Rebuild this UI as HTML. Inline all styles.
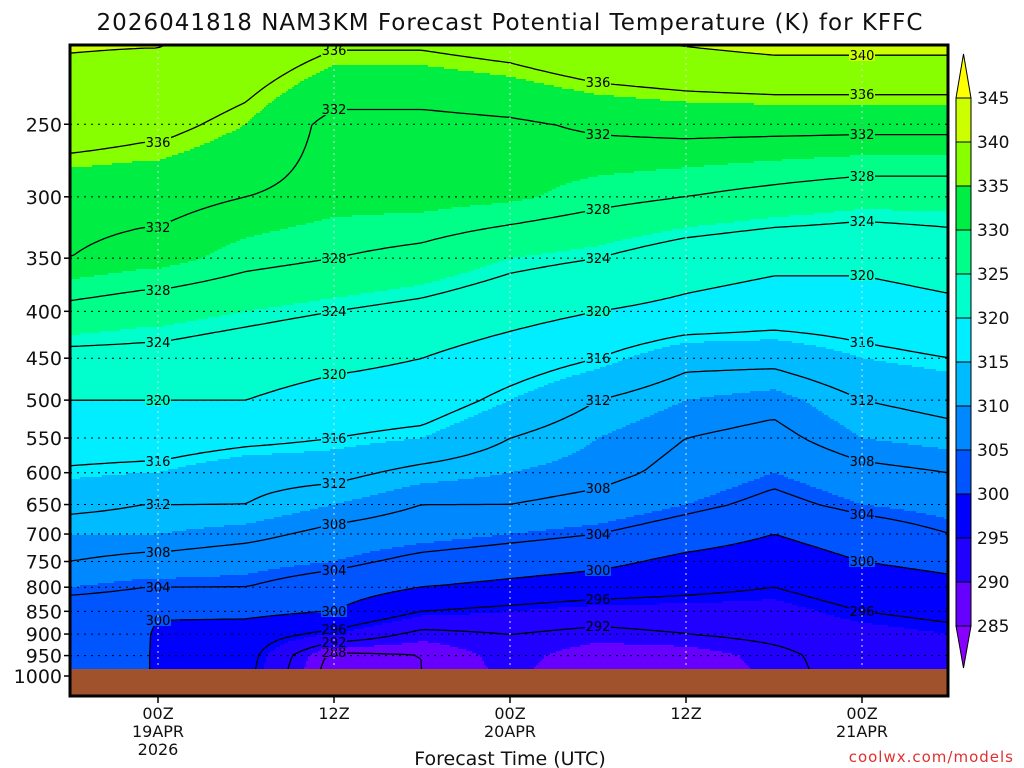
<!DOCTYPE html>
<html><head><meta charset="utf-8">
<style>
body{margin:0;background:#fff;}
svg{display:block;font-family:"DejaVu Sans","Liberation Sans",sans-serif;}
</style></head>
<body>
<svg id="chart" width="1024" height="768" viewBox="0 0 1024 768" xmlns="http://www.w3.org/2000/svg">
<text x="510" y="30" font-size="23" text-anchor="middle" fill="#111" letter-spacing="1">2026041818 NAM3KM Forecast Potential Temperature (K) for KFFC</text>
<defs><clipPath id="pc"><rect x="70" y="45" width="878" height="651"/></clipPath></defs>
<g id="fill" clip-path="url(#pc)"></g>
<g id="contours" clip-path="url(#pc)"></g>
<g id="grid"></g>
<rect x="70" y="669" width="878" height="27" fill="#a0522d"/>
<rect x="70" y="45" width="878" height="651" fill="none" stroke="#000" stroke-width="3"/>
<g id="yaxis"></g>
<g id="xaxis"></g>
<text x="510" y="765" font-size="19" text-anchor="middle" fill="#111">Forecast Time (UTC)</text>
<text x="1014" y="762" font-size="15" text-anchor="end" fill="#e03030" letter-spacing="1">coolwx.com/models</text>
<g id="cbar"></g>
</svg>
<script>
const hours = [-6,-1,0,6,12,18,24,30,36,42,48,54];
const pressures = [200,250,300,350,400,450,500,550,600,650,700,750,800,850,900,950,1000];
// theta[time][pressure index]
const thetaM6 = [340.5,338,333,332,327,323,320,318,315.5,313,310,308,305,302,302,302,302];
const thetaM1 = [340.5,337,333,331,326,323,320,318,315,312,310,307,304,302,301.5,301.5,301.5];
const theta00 = [340.5,337,333,331,326,323,320,318,315,312,310,307,304,301,298.5,298,298];
const theta06 = [339,335,332,329,325,322,320,317,313,312,309,306,304,301,298,297.5,297];
const theta12 = [337,331,331,328,324,321,318.5,316,313,310,307,305,302,300,295,287,286];
const theta18 = [337,331,331,327,323,320,318,315,311,308,306,303,300,296,291,288,288];
const theta24 = [338,331.5,330.5,325,321.5,318,315,312,310,308,305,302,299,295,292,291,290.5];
const theta30 = [340,332.5,329,324,320,316,312,310,309,307,304,301,298,294,291,288.5,288];
const theta36 = [341,333,328,322,319,313,310,308,307,305,302,299,297,294,292,288.5,288];
const theta42 = [342,333,327,321,318,313,309,307,305,303,300,298,296,294,293,291,290.5];
const theta48 = [342,333,326,321,318,315,312,310,307,305,302,300,298,296,294,294,294];
const theta54 = [342,333,326,322,319,316,313,311,308,306,304,301,299,297,295,294,294];
const theta = [thetaM6,thetaM1,theta00,theta06,theta12,theta18,theta24,theta30,theta36,theta42,theta48,theta54];
const cbLevels = [285,290,295,300,305,310,315,320,325,330,335,340,345];
const cbColors = ["#8800ff","#6600ff","#2200ff","#0000ff","#0055ff","#0088ff","#00bbff","#00eeff","#00ffcc","#00ff88","#00ee44","#88ff00","#ccff00","#ffff00"];
const contourLevels = [288,292,296,300,304,308,312,316,320,324,328,332,336,340];
const yTicks = [250,300,350,400,450,500,550,600,650,700,750,800,850,900,950,1000];
const xTickHours = [0,12,24,36,48];
const xTickLabels = [["00Z","19APR","2026"],["12Z"],["00Z","20APR"],["12Z"],["00Z","21APR"]];

const NS="http://www.w3.org/2000/svg";
const X0=70,X1=948,Y0=45,Y1=696;
const xOf=h=>158+(h)*176/12;
const hOf=x=>(x-158)*12/176;
const yOf=p=>676-Math.log(1000/p)*398;
const pOf=y=>1000*Math.exp(-(676-y)/398);
function mk(tag,attrs,parent){const e=document.createElementNS(NS,tag);for(const k in attrs)e.setAttribute(k,attrs[k]);parent.appendChild(e);return e;}
function sample(h,p){
  let i=0;
  if(h<=hours[0])i=0; else if(h>=hours[hours.length-1]) i=hours.length-1.0001;
  else{for(let k=0;k<hours.length-1;k++){if(h>=hours[k]&&h<=hours[k+1]){i=k+(h-hours[k])/(hours[k+1]-hours[k]);break;}}}
  const lp=Math.log(p);let j=0;
  if(p<=pressures[0])j=0; else if(p>=pressures[pressures.length-1]) j=pressures.length-1.0001;
  else{for(let k=0;k<pressures.length-1;k++){if(p>=pressures[k]&&p<=pressures[k+1]){j=k+(lp-Math.log(pressures[k]))/(Math.log(pressures[k+1])-Math.log(pressures[k]));break;}}}
  const i0=Math.floor(i),j0=Math.floor(j),fi=i-i0,fj=j-j0;
  const v=(a,b)=>theta[Math.min(a,hours.length-1)][Math.min(b,pressures.length-1)];
  return (1-fi)*(1-fj)*v(i0,j0)+fi*(1-fj)*v(i0+1,j0)+(1-fi)*fj*v(i0,j0+1)+fi*fj*v(i0+1,j0+1);
}
function colorOf(t){let k=0;while(k<cbLevels.length&&t>=cbLevels[k])k++;return cbColors[k];}
const fill=document.getElementById('fill');
const dx=2,dy=2;
for(let y=Y0;y<Y1;y+=dy){
  const p=pOf(y+dy/2);let runStart=X0,runCol=null;
  for(let x=X0;x<=X1;x+=dx){
    const c=x<X1?colorOf(sample(hOf(x+dx/2),p)):null;
    if(c!==runCol){
      if(runCol){const r=mk('rect',{x:runStart,y:y,width:x-runStart+0.5,height:dy+0.5,fill:runCol},fill);
        
        }
      runStart=x;runCol=c;
    }
  }
}
const cg=document.getElementById('contours');
const cs=5;const nx=Math.ceil((X1-X0)/cs)+1,ny=Math.ceil((Y1-Y0)/cs)+1;
const G=[];for(let j=0;j<ny;j++){G.push([]);for(let i=0;i<nx;i++)G[j].push(sample(hOf(X0+i*cs),pOf(Y0+j*cs)));}
contourLevels.forEach(L=>{
  let d="";
  for(let j=0;j<ny-1;j++)for(let i=0;i<nx-1;i++){
    const a=G[j][i],b=G[j][i+1],c=G[j+1][i+1],e=G[j+1][i];
    const pts=[];
    const x=X0+i*cs,y=Y0+j*cs;
    if((a<L)!==(b<L))pts.push([x+cs*(L-a)/(b-a),y]);
    if((b<L)!==(c<L))pts.push([x+cs,y+cs*(L-b)/(c-b)]);
    if((e<L)!==(c<L))pts.push([x+cs*(L-e)/(c-e),y+cs]);
    if((a<L)!==(e<L))pts.push([x,y+cs*(L-a)/(e-a)]);
    if(pts.length>=2)d+=`M${pts[0][0].toFixed(1)} ${pts[0][1].toFixed(1)}L${pts[1][0].toFixed(1)} ${pts[1][1].toFixed(1)}`;
    if(pts.length===4)d+=`M${pts[2][0].toFixed(1)} ${pts[2][1].toFixed(1)}L${pts[3][0].toFixed(1)} ${pts[3][1].toFixed(1)}`;
  }
  const pa=mk('path',{d:d,stroke:'#000','stroke-width':1.3,fill:'none'},cg);
  
  
});
[[0],[12],[30],[48]].forEach(([h])=>{
  const x=xOf(h);
  contourLevels.forEach(L=>{
    for(let y=Y0+5;y<669;y+=1){const t1=sample(h,pOf(y)),t2=sample(h,pOf(y+1));
      if((t1-L)*(t2-L)<=0&&t1!==t2){
        const bg=mk('rect',{x:x-13,y:y-6,width:26,height:12,fill:colorOf(L)},cg);
        
        
        const tx=mk('text',{x:x,y:y+5,'font-size':13,'text-anchor':'middle',fill:'#000'},cg);
        
        
        tx.textContent=L;break;}}
  });
});
const grid=document.getElementById('grid'),ya=document.getElementById('yaxis'),xa=document.getElementById('xaxis');
yTicks.forEach(p=>{const y=yOf(p);
  const l=mk('line',{x1:X0,x2:X1,y1:y,y2:y,stroke:'#000','stroke-width':1,'stroke-dasharray':'2,5'},grid);
  
  const tk=mk('line',{x1:X0-6,x2:X0,y1:y,y2:y,stroke:'#000','stroke-width':1.5},ya);
  
  const t=mk('text',{x:X0-8,y:y+7,'font-size':19,'text-anchor':'end',fill:'#111'},ya);
  t.textContent=p;});
xTickHours.forEach((h,k)=>{const x=xOf(h);
  const l=mk('line',{x1:x,x2:x,y1:Y0,y2:Y1,stroke:'#ddd','stroke-width':1,'stroke-dasharray':'2,4'},grid);
  
  const tk=mk('line',{x1:x,x2:x,y1:Y1,y2:Y1+7,stroke:'#000','stroke-width':1.5},xa);
  
  xTickLabels[k].forEach((s,m)=>{const t=mk('text',{x:x,y:719+m*18,'font-size':16,'text-anchor':'middle',fill:'#111'},xa);
    t.textContent=s;});});
const cb=document.getElementById('cbar');const bx=956,bw=15,btop=98,bh=44;
for(let k=0;k<cbColors.length;k++){
  let el;
  if(k===cbColors.length-1){el=mk('polygon',{points:`${bx},${btop} ${bx+bw},${btop} ${bx+bw/2},54`,fill:cbColors[k],stroke:'#000','stroke-width':1},cb);}
  else if(k===0){const y=btop+(cbLevels.length-1)*bh;el=mk('polygon',{points:`${bx},${y} ${bx+bw},${y} ${bx+bw/2},668`,fill:cbColors[k],stroke:'#000','stroke-width':1},cb);}
  else{const y=btop+(cbLevels.length-1-k)*bh;el=mk('rect',{x:bx,y:y,width:bw,height:bh,fill:cbColors[k],stroke:'#000','stroke-width':1},cb);}
  
}
cbLevels.forEach((v,k)=>{const y=btop+(cbLevels.length-1-k)*bh;
  const t=mk('text',{x:977,y:y+6,'font-size':17,fill:'#111'},cb);
  t.textContent=v;});
</script>
</body></html>
